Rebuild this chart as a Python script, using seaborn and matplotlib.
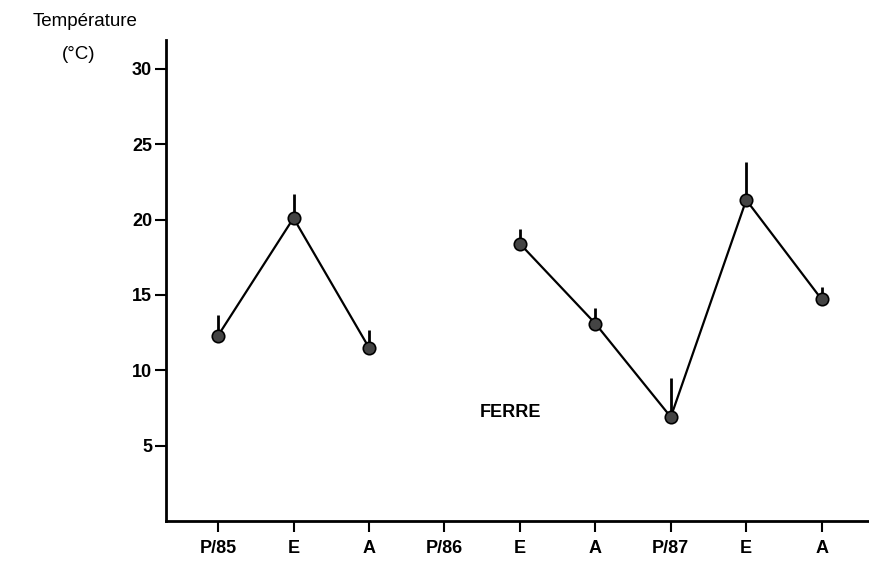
import matplotlib
matplotlib.use("Agg")
import matplotlib.pyplot as plt
import pandas as pd
import numpy as np
import seaborn as sns

# seasons (P = printemps, E = ete, A = automne)
saisons = ["P/85", "E", "A", "P/86", "E", "A", "P/87", "E", "A"]
temp = [12.3, 20.1, 11.5, np.nan, 18.4, 13.1, 6.9, 21.3, 14.7]
temp_haut = [13.7, 21.7, 12.7, np.nan, 19.4, 14.1, 9.5, 23.8, 15.5]
segment = [1, 1, 1, 0, 2, 2, 2, 2, 2]

df = pd.DataFrame({"pos": range(len(saisons)), "temp": temp,
                   "haut": temp_haut, "seg": segment}).dropna()

sns.set_style("white")
plt.rcParams["font.family"] = ["Liberation Sans", "DejaVu Sans"]
plt.rcParams["text.color"] = "black"

fig = plt.figure(figsize=(8.7, 5.61), dpi=100)
ax = fig.add_axes([0.1908, 0.0713, 0.8092, 0.857])

# one-sided error bars (upward)
ax.vlines(df["pos"], df["temp"], df["haut"], color="black", lw=2, zorder=2)

sns.lineplot(data=df, x="pos", y="temp", units="seg", estimator=None,
             color="black", lw=1.6, ax=ax, zorder=3)
sns.scatterplot(data=df, x="pos", y="temp", color="#444444", edgecolor="black",
                s=80, linewidth=1.2, ax=ax, zorder=4)

ax.set_xlim(-0.69, 8.64)
ax.set_ylim(0, 31.9)
ax.set_xticks(range(len(saisons)))
ax.set_xticklabels(saisons, fontsize=13, fontweight="bold")
ax.set_yticks([5, 10, 15, 20, 25, 30])
ax.set_yticklabels(["5", "10", "15", "20", "25", "30"], fontsize=13, fontweight="bold")
ax.tick_params(axis="both", direction="out", length=8, width=1.5, colors="black",
               pad=2, bottom=True, left=True)
ax.tick_params(axis="x", pad=6)
ax.set_xlabel("")
ax.set_ylabel("")

for s in ["top", "right"]:
    ax.spines[s].set_visible(False)
for s in ["left", "bottom"]:
    ax.spines[s].set_color("black")
    ax.spines[s].set_linewidth(2)

fig.text(0.098, 0.961, "Température", fontsize=13.5, ha="center", va="center")
fig.text(0.09, 0.902, "(°C)", fontsize=13.5, ha="center", va="center")
ax.text(3.88, 7.2, "FERRE", fontsize=13, fontweight="bold", ha="center", va="center")

fig.savefig("out.png", dpi=100)
